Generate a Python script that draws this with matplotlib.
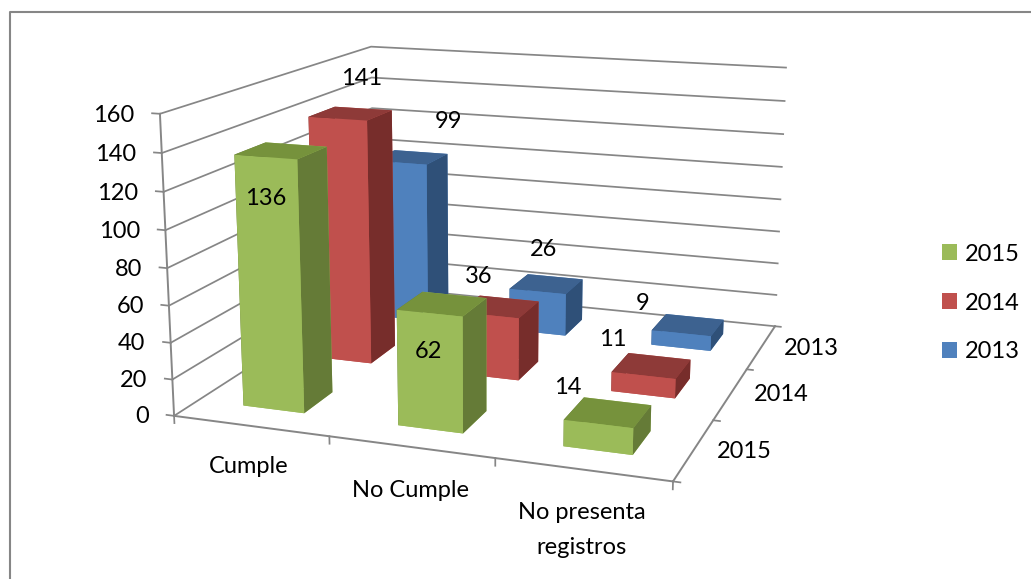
import matplotlib
matplotlib.use("Agg")
import matplotlib.pyplot as plt
from matplotlib.lines import Line2D
from matplotlib.patches import Patch
from mpl_toolkits.mplot3d import proj3d

W, H = 1031, 579
plt.rcParams["font.family"] = ["Lato", "DejaVu Sans"]

categories = ["Cumple", "No Cumple", "No presenta\nregistros"]
series = ["2015", "2014", "2013"]
v2015 = [136, 62, 14]
v2014 = [141, 36, 11]
v2013 = [99, 26, 9]
z_ticks = [0, 20, 40, 60, 80, 100, 120, 140, 160]

FS = 17
GREY = "#868686"
# front, top, side
FACES = {
    "2015": ("#9BBB59", "#76923C", "#657B37"),
    "2014": ("#C0504D", "#8E3A38", "#772D2B"),
    "2013": ("#4F81BD", "#3D6290", "#2F5078"),
}

fig = plt.figure(figsize=(W / 100, H / 100), dpi=100, facecolor="white")
ax = fig.add_axes([0, 0, 1, 1], projection="3d", facecolor="none")
ax.set_xlim(0, 3, view_margin=0)
ax.set_ylim(0, 3, view_margin=0)
ax.set_zlim(0, 160, view_margin=0)
ax.set_axis_off()
ax.computed_zorder = False

# camera fitted against the box corners of the reference
cx, cy, size = 489.4, 240.531, 711.109
ax.set_proj_type("persp", focal_length=0.443)
ax.view_init(elev=13.91, azim=-70.697, roll=-0.099)
ax.set_box_aspect((1.67, 1.651, 1))
ax.set_position([(cx - size / 2) / W, 1 - (cy + size / 2) / H, size / W, size / H])
ax.apply_aspect()

# frame
for t in z_ticks:
    ax.plot([0, 0, 3], [0, 3, 3], [t, t, t], color=GREY, lw=1.25, zorder=1)
    ax.plot([-0.05, 0], [0, 0], [t, t], color=GREY, lw=1.25, zorder=1)
ax.plot([0, 0], [0, 0], [0, 160], color=GREY, lw=1.4, zorder=1)
ax.plot([0, 3], [0, 0], [0, 0], color=GREY, lw=1.4, zorder=1)
ax.plot([3, 3], [0, 3], [0, 0], color=GREY, lw=1.4, zorder=1)
for i in range(4):
    ax.plot([i, i], [0, 0], [0, -4], color=GREY, lw=1.25, zorder=1)
    ax.plot([3, 3.04], [i, i], [0, 0], color=GREY, lw=1.25, zorder=1)

# bars, back row first
BAR = 0.4
rows = [("2015", v2015), ("2014", v2014), ("2013", v2013)]
order = 2
for j, (name, vals) in reversed(list(enumerate(rows))):
    front, top, side = FACES[name]
    for i, v in enumerate(vals):
        faces = [front, top, front, front, side, side]
        ax.bar3d(i + 0.3, j + 0.3, 0, BAR, BAR, v, color=faces, shade=False,
                 edgecolor="none", linewidth=0, zorder=order)
        order += 1

# border, runs off the right and bottom of the picture
fig.add_artist(Line2D([10 / W, 10 / W, 1], [0, 1 - 12 / H, 1 - 12 / H], color=GREY, lw=1.5))


def px_text(x, y, s, **kw):
    fig.text(x / W, 1 - (y + 1.5) / H, s, fontsize=FS, color="black", ha="center", va="center", **kw)


for t in z_ticks:
    xs, ys, _ = proj3d.proj_transform(-0.05, 0, t, ax.get_proj())
    pix = ax.transData.transform((xs, ys))
    fig.text((pix[0] - 17.5) / W, (pix[1] - 2) / H, str(t), fontsize=FS, ha="right", va="center", color="black")

px_text(249, 465, categories[0])
px_text(410, 489, categories[1])
px_text(582, 528.5, categories[2], linespacing=1.79)
px_text(811, 347, series[2])
px_text(781, 393, series[1])
px_text(744, 450, series[0])

label_px = {
    "2015": [(266, 197), (428, 350), (568, 386)],
    "2014": [(362, 77), (479, 275), (613, 338)],
    "2013": [(449, 120), (544, 248), (643, 302)],
}
for name, vals in rows:
    for (x, y), v in zip(label_px[name], vals):
        px_text(x, y, str(v))

handles = [Patch(facecolor=FACES[s][0], label=s) for s in series]
fig.legend(handles=handles, loc="center left", bbox_to_anchor=(921 / W, 1 - 303 / H), frameon=False,
           fontsize=FS, handlelength=0.64, handleheight=0.64, handletextpad=0.33, labelspacing=1.185)

fig.savefig("out.png", dpi=100)
